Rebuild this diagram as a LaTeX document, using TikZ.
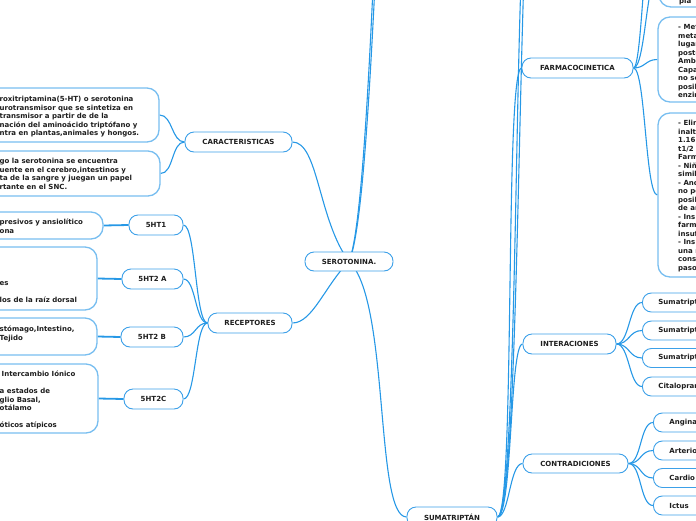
\documentclass[tikz,border=0pt]{standalone}
\usepackage{fontspec}
\setmainfont{DejaVu Sans}
\definecolor{conn}{RGB}{38,152,230}
\definecolor{nodeb}{RGB}{60,160,232}
\definecolor{leafb}{RGB}{120,190,240}
\definecolor{txt}{RGB}{30,30,30}
\pgfdeclarelayer{bg}
\pgfsetlayers{bg,main}
\tikzset{
  mainbox/.style={draw=nodeb, line width=0.9pt, fill=white, rounded corners=9pt, inner sep=0pt,
    font=\fontsize{7}{8.5}\selectfont\bfseries, text=txt},
  smallbox/.style={draw=nodeb, line width=0.9pt, fill=white, rounded corners=9pt, inner ysep=0pt,
    inner xsep=16pt, anchor=west, minimum height=19pt, text width=80pt, align=left,
    font=\fontsize{7}{8.5}\selectfont\bfseries, text=txt},
  leafbox/.style={draw=leafb, line width=1.3pt, fill=white, rounded corners=12pt, inner sep=0pt},
  body/.style={inner sep=0pt, align=left, anchor=north west,
    font=\fontsize{7}{8.5}\selectfont\bfseries, text=txt},
  link/.style={draw=conn, line width=1.1pt},
  stem/.style={draw=conn, line width=1.8pt},
}
\newcommand{\fl}{\rule{0pt}{6.5pt}}
\begin{document}
\begin{tikzpicture}[x=1pt,y=-1pt]
\useasboundingbox (0,0) rectangle (696,520);
\clip (0,0) rectangle (696,520);

% main nodes
\node[mainbox, minimum width=88pt, minimum height=19pt] (root) at (349,261.5) {SEROTONINA.};
\node[mainbox, minimum width=107pt, minimum height=20pt] (car) at (238.5,142) {CARACTERISTICAS};
\node[mainbox, minimum width=84pt, minimum height=20pt] (rec) at (250,323) {RECEPTORES};
\node[mainbox, minimum width=54pt, minimum height=20pt] (h1) at (156,225) {5HT1};
\node[mainbox, minimum width=61pt, minimum height=20pt] (h2) at (152.5,279) {5HT2 A};
\node[mainbox, minimum width=62pt, minimum height=20pt] (h3) at (152,337) {5HT2 B};
\node[mainbox, minimum width=59pt, minimum height=20pt] (h4) at (153.5,399) {5HT2C};
\node[mainbox, minimum width=111pt, minimum height=20pt] (farm) at (577.5,68) {FARMACOCINETICA};
\node[mainbox, minimum width=93pt, minimum height=20pt] (inter) at (569.5,344) {INTERACIONES};
\node[mainbox, minimum width=105pt, minimum height=19pt] (contra) at (575.5,463.5) {CONTRADICIONES};
\node[mainbox, minimum width=90pt, minimum height=20pt] (suma) at (452,517) {SUMATRIPTÁN};

% left leaf boxes
\node[leafbox, minimum width=199pt, minimum height=54pt] (c1box) at (59.5,115) {};
\node[body] (c1t) at (-0.5,95) {\fl roxitriptamina(5-HT) o serotonina\\urotransmisor que se sintetiza en\\transmisor a partir de de la\\nación del aminoácido triptófano y\\ntra en plantas,animales y hongos.};
\node[leafbox, minimum width=200pt, minimum height=45pt] (c2box) at (60,173.5) {};
\node[body] (c2t) at (-0.5,157) {\fl go la serotonina se encuentra\\uente en el cerebro,intestinos y\\ta de la sangre y juegan un papel\\rtante en el SNC.};
\node[leafbox, minimum width=143pt, minimum height=27pt] (r1box) at (31.5,225.5) {};
\node[body] (r1t) at (-0.5,218) {\fl presivos y ansiolítico\\ona};
\node[leafbox, minimum width=137pt, minimum height=63pt] (r2box) at (28.5,278.5) {};
\node[body] (r2t) at (-0.5,279) {\fl es\\[8.5pt]los de la raíz dorsal};
\node[leafbox, minimum width=137pt, minimum height=37pt] (r3box) at (28.5,336.5) {};
\node[body] (r3t) at (-0.5,325) {\fl stómago,Intestino,\\Tejido};
\node[leafbox, minimum width=138pt, minimum height=69pt] (r4box) at (29,398.5) {};
\node[body] (r4t) at (-0.5,370) {\fl\hspace*{2pt}Intercambio Iónico\\[8.5pt]a estados de\\glio Basal,\\otálamo\\[8.5pt]óticos atípicos};

% right leaf boxes (farmacocinetica)
\node[leafbox, minimum width=101pt, minimum height=67pt] (f0box) at (709.5,-26.5) {};
\node[body] (f0t) at (679,-3.5) {\fl pla};
\node[leafbox, minimum width=102pt, minimum height=85pt] (f1box) at (709,59.5) {};
\node[body] (f1t) at (678,23) {\fl - Met\\meta\\lugar\\poste\\Ambe\\Capa\\no se\\posib\\enzim};
\node[leafbox, minimum width=102pt, minimum height=164pt] (f2box) at (709,195) {};
\node[body] (f2t) at (678,119) {\fl - Elim\\inalt\\1.16\\t1/2\\Farm\\- Niñ\\simil\\- Anc\\no pe\\posib\\de ar\\- Ins\\farm\\insuf\\- Ins\\una r\\cons\\paso};

% interaciones children
\node[smallbox] (i1) at (642,302.5) {Sumatript};
\node[smallbox] (i2) at (642,330.5) {Sumatript};
\node[smallbox] (i3) at (642,358) {Sumatript};
\node[smallbox] (i4) at (642,386.5) {Citalopram};
% contradiciones children
\node[smallbox] (k1) at (653,422.5) {Angina};
\node[smallbox] (k2) at (653,450.5) {Arterio};
\node[smallbox] (k3) at (653,478) {Cardio};
\node[smallbox] (k4) at (653,505.5) {Ictus};

% off-frame ends
\coordinate (offA) at (376,-80);
\coordinate (offB) at (380,-120);
\coordinate (offC) at (525,-80);
\coordinate (offD) at (530,-130);
\coordinate (offE) at (662,-120);

\begin{pgfonlayer}{bg}
% root connectors
\draw[link] (car.east) .. controls +(26,0) and +(-31,-42) .. (root.center);
\draw[link] (root.center) .. controls +(-24,24) and +(20,0) .. (rec.east);
\draw[link] (root.center) .. controls +(13,-31) and +(-6,140) .. (offA);
\draw[link] (root.center) .. controls +(15,-33) and +(-8,170) .. (offB);
\draw[link] (root.center) .. controls +(41,38) and +(-32,0) .. (suma.west);
% caracteristicas
\draw[link] (car.west) .. controls +(-13,0) and +(13,0) .. (c1box.east);
\draw[link] (car.west) .. controls +(-13,0) and +(13,0) .. (c2box.east);
% receptores
\foreach \h in {h1,h2,h3,h4}
  \draw[link] (rec.west) .. controls +(-12.5,0) and +(12.5,0) .. (\h.east);
\draw[stem] (h1.west) -- (r1box.east);
\draw[stem] (h2.west) -- (r2box.east);
\draw[stem] (h3.west) -- (r3box.east);
\draw[stem] (h4.west) -- (r4box.east);
% sumatriptan
\draw[link] (suma.east) .. controls +(18,0) and +(-17,0) .. (farm.west);
\draw[link] (suma.east) .. controls +(15,0) and +(-13,0) .. (inter.west);
\draw[link] (suma.east) .. controls +(12,0) and +(-13,0) .. (contra.west);
\draw[link] (suma.east) .. controls +(20,0) and +(-10,60) .. (offC);
\draw[link] (suma.east) .. controls +(22,0) and +(-12,90) .. (offD);
% farmacocinetica
\draw[link] (farm.east) .. controls +(12,0) and +(-12,0) .. (f0box.west);
\draw[link] (farm.east) .. controls +(12,0) and +(-12,0) .. (f1box.west);
\draw[link] (farm.east) .. controls +(12,0) and +(-12,0) .. (f2box.west);
\draw[link] (farm.east) .. controls +(10,0) and +(-18,0) .. (offE);
% interaciones / contradiciones
\foreach \i in {i1,i2,i3,i4}
  \draw[link] (inter.east) .. controls +(13,0) and +(-13,0) .. (\i.west);
\foreach \k in {k1,k2,k3,k4}
  \draw[link] (contra.east) .. controls +(13,0) and +(-13,0) .. (\k.west);
\end{pgfonlayer}
\end{tikzpicture}
\end{document}
